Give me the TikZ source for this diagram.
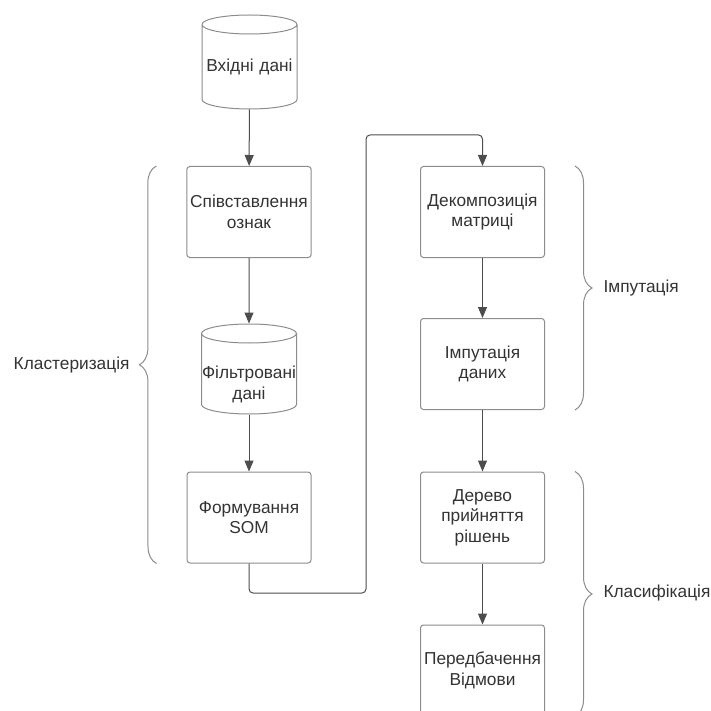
\documentclass[tikz,border=0pt]{standalone}
\usepackage{fontspec}
\setmainfont{Liberation Sans}
\usepackage{xcolor}
\usepackage{tikz}
\usetikzlibrary{positioning, shapes.geometric, arrows.meta, decorations.pathreplacing}
\definecolor{linegray}{HTML}{4D4D4D}
\definecolor{boxgray}{HTML}{8C8C8C}
\definecolor{textgray}{HTML}{333333}

\begin{document}
\begin{tikzpicture}[x=1pt, y=1pt]
\tikzstyle{process} = [rectangle, rounded corners=3pt, draw=boxgray, line width=1pt, minimum width=124pt, minimum height=91pt, align=center, text=textgray, font=\fontsize{17.3}{20.5}\selectfont]
\tikzstyle{store}   = [cylinder, shape border rotate=90, aspect=0.2, draw=boxgray, line width=1pt, minimum width=95pt, minimum height=94pt, inner xsep=0pt, text width=95pt, align=center, text=textgray, font=\fontsize{17.3}{20.5}\selectfont]
\tikzstyle{phase}   = [text=textgray, font=\fontsize{17.3}{20.5}\selectfont]
\tikzstyle{flow}    = [-{Triangle[length=11pt, width=9pt]}, draw=linegray, line width=1pt]
\tikzstyle{group}   = [decorate, decoration={brace, amplitude=17pt}, draw=boxgray, line width=1pt]
\useasboundingbox (0,0) rectangle (710,-711);
\node[store] at (249.5, -67.0) (in){Вхідні дані};
\node[store, minimum height=90pt] at (249.0, -374.0) (filt){\raisebox{-11pt}[\height][\depth]{\begin{tabular}{@{}c@{}}Фільтровані\\дані\end{tabular}}};
\node[process] at (249.0, -212.0) (match){Співставлення\\ознак};
\node[process] at (249.0, -517.5) (som){Формування\\SOM};
\node[process] at (482.5, -212.0) (dec){Декомпозиція\\матриці};
\node[process] at (482.5, -364.0) (imp){Імпутація\\даних};
\node[process] at (482.5, -517.5) (tree){Дерево\\прийняття\\рішень};
\node[process] at (482.5, -670.5) (pred){Передбачення\\Відмови};
\coordinate (low) at (366.0, -593.0);
\coordinate (high) at (366.0, -135.0);
\node[phase, anchor=east] at (133.0, -365.0) (clus){Кластеризація};
\node[phase, anchor=west] at (600.0, -288.0) (impl){Імпутація};
\node[phase, anchor=west] at (600.0, -593.0) (clas){Класифікація};
\draw[flow] (in) -- (match);
\draw[flow] (match) -- (filt);
\draw[flow] (filt) -- (som);
\draw[flow, rounded corners=4pt] (som.south) |- (low) -- (high) -| (dec.north);
\draw[flow] (dec) -- (imp);
\draw[flow] (imp) -- (tree);
\draw[flow] (tree) -- (pred);
\draw[group] ([xshift=-30pt]som.south west) -- ([xshift=-30pt]match.north west);
\draw[group] ([xshift=30pt]dec.north east) -- ([xshift=30pt]imp.south east);
\draw[group] ([xshift=30pt]tree.north east) -- ([xshift=30pt]pred.south east);
\end{tikzpicture}
\end{document}
